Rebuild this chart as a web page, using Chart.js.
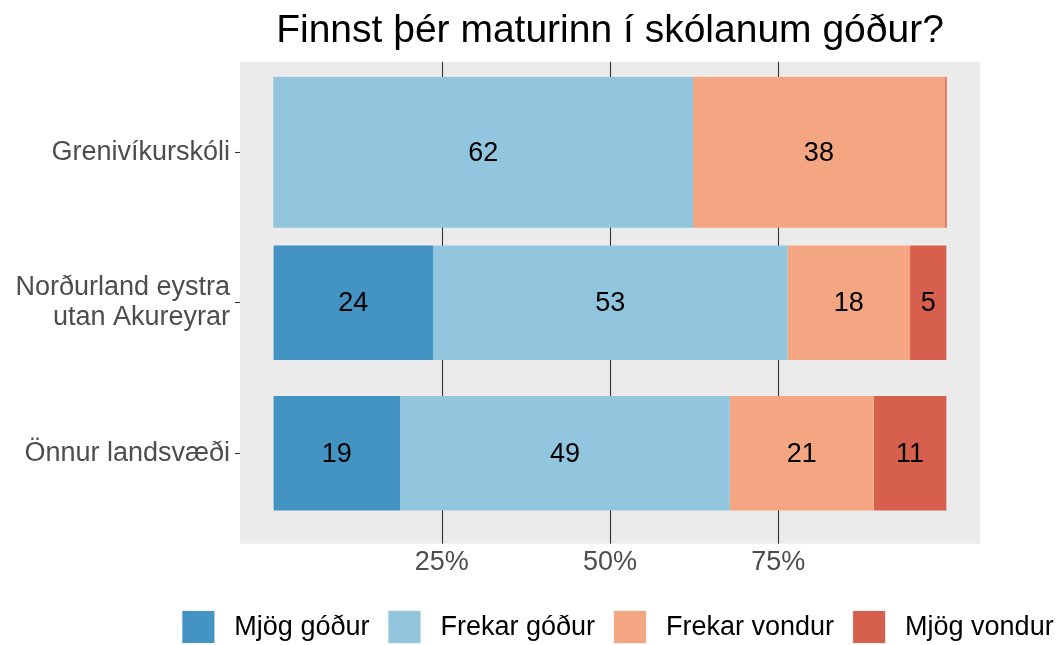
<!DOCTYPE html>
<html>
<head>
<meta charset="utf-8">
<script src="https://cdn.jsdelivr.net/npm/chart.js@4.4.1/dist/chart.umd.min.js"></script>
<style>
  html, body { margin: 0; padding: 0; background: #fff; }
  #wrap { width: 1061px; height: 645px; }
</style>
</head>
<body>
<div id="wrap"><canvas id="chart" width="1061" height="645"></canvas></div>
<script>
const title = 'Finnst þér maturinn í skólanum góður?';
const categories = ['Grenivíkurskóli', ['Norðurland eystra', 'utan Akureyrar'], 'Önnur landsvæði'];
const seriesNames = ['Mjög góður', 'Frekar góður', 'Frekar vondur', 'Mjög vondur'];
const seriesColors = ['#4393C3', '#92C5DE', '#F4A582', '#D6604D'];
const mjogGodur    = [0,    23.7, 18.8];
const frekarGodur  = [62.3, 52.7, 49.0];
const frekarVondur = [37.5, 18.2, 21.4];
const mjogVondur   = [0.2,  5.4,  10.8];
const xTicks = [25, 50, 75];

const family = '"Liberation Sans", Arial, sans-serif';
const seriesValues = [mjogGodur, frekarGodur, frekarVondur, mjogVondur];

// the school row is drawn with a wider bar than the two regions,
// so every series is split into two datasets with their own bar size
const datasets = [];
seriesNames.forEach((name, i) => {
  datasets.push({
    label: name,
    data: seriesValues[i].map((v, j) => (j === 0 && v !== 0) ? v : null),
    backgroundColor: seriesColors[i],
    barPercentage: 1, categoryPercentage: 1
  });
  datasets.push({
    label: name,
    data: seriesValues[i].map((v, j) => (j !== 0 && v !== 0) ? v : null),
    backgroundColor: seriesColors[i],
    barPercentage: 0.76, categoryPercentage: 1
  });
});

const panelPlugin = {
  id: 'panel',
  beforeDatasetsDraw(chart) {
    const { ctx, chartArea: a, scales: { x } } = chart;
    const ext = (a.bottom - a.top) / categories.length * 0.1;
    ctx.save();
    ctx.fillStyle = '#EBEBEB';
    ctx.fillRect(a.left, a.top - ext, a.right - a.left, a.bottom - a.top + 2 * ext);
    ctx.strokeStyle = '#333333';
    ctx.lineWidth = 1.1;
    xTicks.forEach(v => {
      const px = Math.round(x.getPixelForValue(v)) + 0.5;
      ctx.beginPath();
      ctx.moveTo(px, a.top - ext);
      ctx.lineTo(px, a.bottom + ext);
      ctx.stroke();
    });
    ctx.restore();
  }
};

const valueLabels = {
  id: 'valueLabels',
  afterDatasetsDraw(chart) {
    const ctx = chart.ctx;
    ctx.save();
    ctx.font = '27px ' + family;
    ctx.fillStyle = '#000';
    ctx.textAlign = 'center';
    ctx.textBaseline = 'middle';
    chart.data.datasets.forEach((ds, i) => {
      chart.getDatasetMeta(i).data.forEach((bar, j) => {
        const v = ds.data[j];
        if (v == null || v < 2) return;
        const { x, y, base } = bar.getProps(['x', 'y', 'base'], true);
        ctx.fillText(Math.round(v), (x + base) / 2, y + 1);
      });
    });
    ctx.restore();
  }
};

const bottomLegend = {
  id: 'bottomLegend',
  afterDraw(chart) {
    const { ctx, chartArea: a } = chart;
    ctx.save();
    ctx.font = '27px ' + family;
    const box = 32, gapIn = 20, gapOut = 19;
    const widths = seriesNames.map(n => ctx.measureText(n).width);
    const total = widths.reduce((s, w) => s + box + gapIn + w, 0) + gapOut * (seriesNames.length - 1);
    let x = (a.left + a.right) / 2 - total / 2 + 8;
    const yMid = chart.height - 18;
    ctx.textBaseline = 'middle';
    ctx.textAlign = 'left';
    seriesNames.forEach((name, i) => {
      ctx.fillStyle = '#F2F2F2';
      ctx.fillRect(x - 1, yMid - box / 2 - 1, box + 2, box + 2);
      ctx.fillStyle = seriesColors[i];
      ctx.fillRect(x, yMid - box / 2, box, box);
      ctx.fillStyle = '#000';
      ctx.fillText(name, x + box + gapIn, yMid + 1);
      x += box + gapIn + widths[i] + gapOut;
    });
    ctx.restore();
  }
};

new Chart(document.getElementById('chart'), {
  type: 'bar',
  data: { labels: categories, datasets: datasets },
  options: {
    indexAxis: 'y',
    responsive: false,
    animation: false,
    devicePixelRatio: 1,
    layout: { padding: { left: 0, right: 81, top: 0, bottom: 48 } },
    plugins: {
      legend: { display: false },
      tooltip: { enabled: false },
      title: {
        display: true, text: title, fullSize: false, color: '#000',
        font: { size: 39, family: family, weight: 'normal' },
        padding: { top: 8, bottom: 22 }
      }
    },
    scales: {
      x: {
        type: 'linear', stacked: true, min: -5, max: 105,
        grid: { display: false, drawTicks: false },
        border: { display: false },
        afterBuildTicks: s => { s.ticks = xTicks.map(v => ({ value: v })); },
        ticks: { padding: 18, color: '#4D4D4D', font: { size: 27, family: family }, callback: v => v + '%' }
      },
      y: {
        stacked: true, offset: true,
        grid: { drawOnChartArea: false, offset: false, tickLength: 5, tickColor: '#333333', tickWidth: 1.1 },
        border: { display: false },
        afterFit: s => { s.width = 240; },
        ticks: { padding: 5, color: '#4D4D4D', font: { size: 27, family: family, lineHeight: 1.1 } }
      }
    }
  },
  plugins: [panelPlugin, valueLabels, bottomLegend]
});
</script>
</body>
</html>
